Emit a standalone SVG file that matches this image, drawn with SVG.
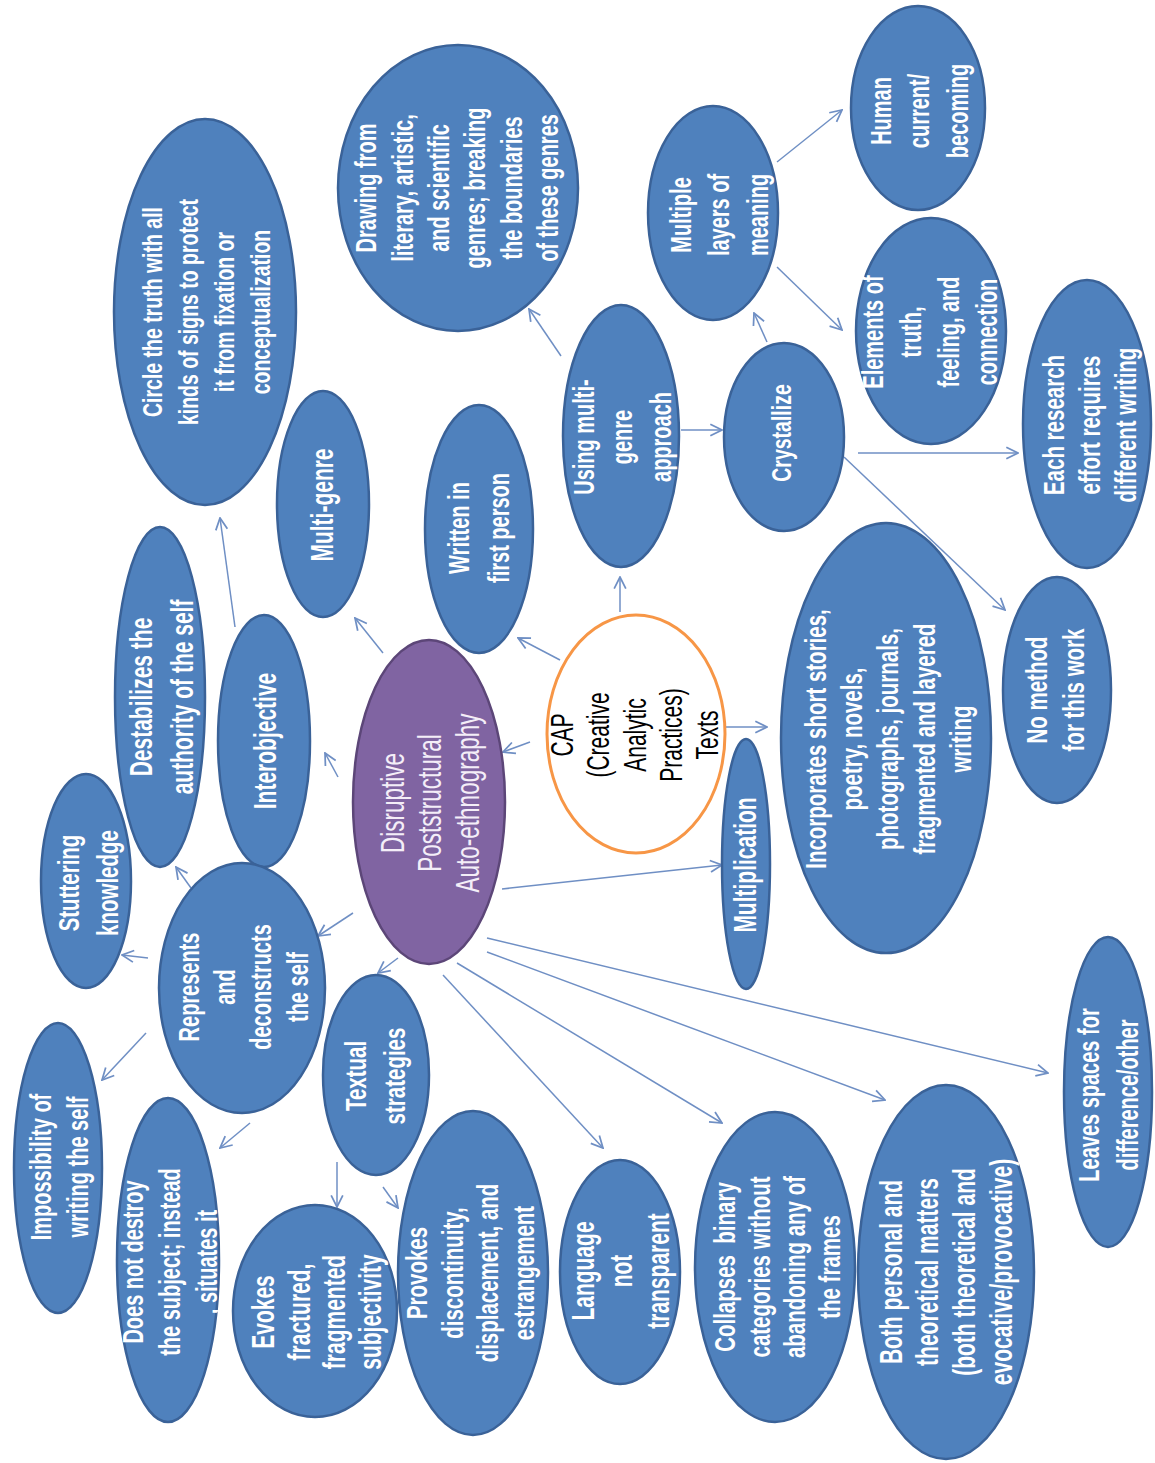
<svg xmlns="http://www.w3.org/2000/svg" width="1155" height="1463" viewBox="0 0 1155 1463">
<style>
.b{fill:#4f81bd;stroke:#3a6298;stroke-width:2.5}
.p{fill:#8064a2;stroke:#5c4678;stroke-width:2.5}
.o{fill:#ffffff;stroke:#f79646;stroke-width:3}
.t{font-family:"Liberation Sans",Arial,sans-serif;font-weight:bold;fill:#ffffff;text-anchor:middle}
.tp{font-family:"Liberation Sans",Arial,sans-serif;fill:#f4eef8;text-anchor:middle}
.tc{font-family:"Liberation Sans",Arial,sans-serif;fill:#000000;text-anchor:middle}
.c line{stroke:#6f8fc4;stroke-width:1.5;fill:none;marker-end:url(#arr)}
</style>
<defs>
<marker id="arr" viewBox="0 0 12 12" refX="11" refY="6" markerWidth="14" markerHeight="14" markerUnits="userSpaceOnUse" orient="auto">
<path d="M1,1 L11,6 L1,11" fill="none" stroke="#6f8fc4" stroke-width="1.5"/>
</marker>
</defs>
<rect width="1155" height="1463" fill="#ffffff"/>

<g id="connectors" class="c">
<line x1="561" y1="356" x2="529" y2="309"/>
<line x1="777" y1="162" x2="842" y2="110"/>
<line x1="777" y1="267" x2="842" y2="330"/>
<line x1="767" y1="342" x2="754" y2="313"/>
<line x1="681" y1="430" x2="722" y2="430"/>
<line x1="858" y1="453" x2="1018" y2="453"/>
<line x1="844" y1="457" x2="1005" y2="610"/>
<line x1="620" y1="612" x2="620" y2="577"/>
<line x1="560" y1="660" x2="518" y2="638"/>
<line x1="530" y1="742" x2="503" y2="752"/>
<line x1="725" y1="727" x2="767" y2="727"/>
<line x1="383" y1="653" x2="355" y2="618"/>
<line x1="338" y1="777" x2="325" y2="753"/>
<line x1="235" y1="627" x2="220" y2="518"/>
<line x1="191" y1="888" x2="176" y2="867"/>
<line x1="353" y1="913" x2="318" y2="936"/>
<line x1="148" y1="958" x2="122" y2="955"/>
<line x1="146" y1="1033" x2="102" y2="1080"/>
<line x1="250" y1="1123" x2="220" y2="1148"/>
<line x1="398" y1="958" x2="378" y2="973"/>
<line x1="337" y1="1162" x2="337" y2="1207"/>
<line x1="383" y1="1187" x2="398" y2="1208"/>
<line x1="502" y1="889" x2="722" y2="865"/>
<line x1="443" y1="975" x2="603" y2="1148"/>
<line x1="457" y1="963" x2="722" y2="1123"/>
<line x1="487" y1="952" x2="885" y2="1100"/>
<line x1="487" y1="938" x2="1048" y2="1073"/>
</g>

<g id="n-circle"><ellipse class="b" cx="205" cy="312" rx="91" ry="193"/>
<text class="t" font-size="19.5" transform="translate(206,312) scale(1.45,1) rotate(-90)"><tspan x="0" y="-30.4">Circle the truth with all</tspan><tspan x="0" y="-5.6">kinds of signs to protect</tspan><tspan x="0" y="19.2">it from fixation or</tspan><tspan x="0" y="44">conceptualization</tspan></text></g>

<g id="n-drawing"><ellipse class="b" cx="458" cy="188" rx="120" ry="143"/>
<text class="t" font-size="20" transform="translate(457,188) scale(1.45,1) rotate(-90)"><tspan x="0" y="-55.75">Drawing from</tspan><tspan x="0" y="-30.65">literary, artistic,</tspan><tspan x="0" y="-5.55">and scientific</tspan><tspan x="0" y="19.55">genres; breaking</tspan><tspan x="0" y="44.65">the boundaries</tspan><tspan x="0" y="69.75">of these genres</tspan></text></g>

<g id="n-multiple"><ellipse class="b" cx="713" cy="213" rx="65" ry="107"/>
<text class="t" font-size="20" transform="translate(719,215) scale(1.45,1) rotate(-90)"><tspan x="0" y="-19.55">Multiple</tspan><tspan x="0" y="7">layers of</tspan><tspan x="0" y="33.55">meaning</tspan></text></g>

<g id="n-human"><ellipse class="b" cx="918" cy="108" rx="67" ry="102"/>
<text class="t" font-size="20" transform="translate(919,111) scale(1.45,1) rotate(-90)"><tspan x="0" y="-19.55">Human</tspan><tspan x="0" y="7">current/</tspan><tspan x="0" y="33.55">becoming</tspan></text></g>

<g id="n-elements"><ellipse class="b" cx="931" cy="331" rx="75" ry="113"/>
<text class="t" font-size="20" transform="translate(930,332) scale(1.45,1) rotate(-90)"><tspan x="0" y="-32.3">Elements of</tspan><tspan x="0" y="-6.1">truth,</tspan><tspan x="0" y="20.1">feeling, and</tspan><tspan x="0" y="46.3">connection</tspan></text></g>

<g id="n-each"><ellipse class="b" cx="1087" cy="424" rx="64" ry="144"/>
<text class="t" font-size="20.5" transform="translate(1090,425) scale(1.45,1) rotate(-90)"><tspan x="0" y="-17.6">Each research</tspan><tspan x="0" y="7.2">effort requires</tspan><tspan x="0" y="32">different writing</tspan></text></g>

<g id="n-using"><ellipse class="b" cx="621" cy="436" rx="58" ry="131"/>
<text class="t" font-size="20" transform="translate(622,437) scale(1.45,1) rotate(-90)"><tspan x="0" y="-19.55">Using multi-</tspan><tspan x="0" y="7">genre</tspan><tspan x="0" y="33.55">approach</tspan></text></g>

<g id="n-crystallize"><ellipse class="b" cx="784" cy="437" rx="60" ry="94"/>
<text class="t" font-size="19.5" transform="translate(781,433) scale(1.45,1) rotate(-90)"><tspan x="0" y="6.8">Crystallize</tspan></text></g>

<g id="n-written"><ellipse class="b" cx="479" cy="529" rx="54" ry="124"/>
<text class="t" font-size="20" transform="translate(479,528) scale(1.45,1) rotate(-90)"><tspan x="0" y="-6.8">Written in</tspan><tspan x="0" y="20.8">first person</tspan></text></g>

<g id="n-multigenre"><ellipse class="b" cx="323" cy="504" rx="46" ry="113"/>
<text class="t" font-size="21" transform="translate(322,505) scale(1.45,1) rotate(-90)"><tspan x="0" y="7.35">Multi-genre</tspan></text></g>

<g id="n-destabilizes"><ellipse class="b" cx="160" cy="697" rx="45" ry="170"/>
<text class="t" font-size="21" transform="translate(162,697) scale(1.45,1) rotate(-90)"><tspan x="0" y="-6.8">Destabilizes the</tspan><tspan x="0" y="21.5">authority of the self</tspan></text></g>

<g id="n-interobjective"><ellipse class="b" cx="264" cy="741" rx="46" ry="126"/>
<text class="t" font-size="21" transform="translate(265,741) scale(1.45,1) rotate(-90)"><tspan x="0" y="7.35">Interobjective</tspan></text></g>

<g id="n-center"><ellipse class="p" cx="429" cy="802" rx="76" ry="162"/>
<text class="tp" font-size="22.5" transform="translate(430,803) scale(1.45,1) rotate(-90)"><tspan x="0" y="-18">Disruptive</tspan><tspan x="0" y="7.9">Poststructural</tspan><tspan x="0" y="33.8">Auto-ethnography</tspan></text></g>

<g id="n-stuttering"><ellipse class="b" cx="86" cy="881" rx="45" ry="107"/>
<text class="t" font-size="20.5" transform="translate(88,883) scale(1.45,1) rotate(-90)"><tspan x="0" y="-6.25">Stuttering</tspan><tspan x="0" y="20.65">knowledge</tspan></text></g>

<g id="n-cap"><ellipse class="o" cx="636" cy="734" rx="89" ry="119"/>
<text class="tc" font-size="21" transform="translate(635,735) scale(1.45,1) rotate(-90)"><tspan x="0" y="-42.6">CAP</tspan><tspan x="0" y="-17.6">(Creative</tspan><tspan x="0" y="7.35">Analytic</tspan><tspan x="0" y="32.3">Practices)</tspan><tspan x="0" y="57.3">Texts</tspan></text></g>

<g id="n-incorporates"><ellipse class="b" cx="886" cy="738" rx="105" ry="215"/>
<text class="t" font-size="20.5" transform="translate(888,739) scale(1.45,1) rotate(-90)"><tspan x="0" y="-43.1">Incorporates short stories,</tspan><tspan x="0" y="-18">poetry, novels,</tspan><tspan x="0" y="7.2">photographs, journals,</tspan><tspan x="0" y="32.4">fragmented and layered</tspan><tspan x="0" y="57.5">writing</tspan></text></g>

<g id="n-nomethod"><ellipse class="b" cx="1057" cy="690" rx="54" ry="113"/>
<text class="t" font-size="20.5" transform="translate(1055,690) scale(1.45,1) rotate(-90)"><tspan x="0" y="-5.55">No method</tspan><tspan x="0" y="19.95">for this work</tspan></text></g>

<g id="n-multiplication"><ellipse class="b" cx="746" cy="864" rx="24" ry="125"/>
<text class="t" font-size="21" transform="translate(745,865) scale(1.45,1) rotate(-90)"><tspan x="0" y="7.35">Multiplication</tspan></text></g>

<g id="n-represents"><ellipse class="b" cx="242" cy="988" rx="83" ry="125"/>
<text class="t" font-size="20" transform="translate(243,987) scale(1.45,1) rotate(-90)"><tspan x="0" y="-30.55">Represents</tspan><tspan x="0" y="-5.5">and</tspan><tspan x="0" y="19.5">deconstructs</tspan><tspan x="0" y="44.55">the self</tspan></text></g>

<g id="n-impossibility"><ellipse class="b" cx="58" cy="1168" rx="44" ry="145"/>
<text class="t" font-size="20" transform="translate(59,1167) scale(1.45,1) rotate(-90)"><tspan x="0" y="-5.75">Impossibility of</tspan><tspan x="0" y="19.75">writing the self</tspan></text></g>

<g id="n-doesnot"><ellipse class="b" cx="168" cy="1260" rx="51" ry="162"/>
<text class="t" font-size="20" transform="translate(170,1262) scale(1.45,1) rotate(-90)"><tspan x="0" y="-18.5">Does not destroy</tspan><tspan x="0" y="7">the subject; instead</tspan><tspan x="0" y="32.5">, situates it</tspan></text></g>

<g id="n-textual"><ellipse class="b" cx="376" cy="1075" rx="53" ry="100"/>
<text class="t" font-size="20.5" transform="translate(375,1076) scale(1.45,1) rotate(-90)"><tspan x="0" y="-6.25">Textual</tspan><tspan x="0" y="20.65">strategies</tspan></text></g>

<g id="n-evokes"><ellipse class="b" cx="315" cy="1311" rx="82" ry="106"/>
<text class="t" font-size="21" transform="translate(317,1312) scale(1.45,1) rotate(-90)"><tspan x="0" y="-29.55">Evokes</tspan><tspan x="0" y="-4.95">fractured,</tspan><tspan x="0" y="19.65">fragmented</tspan><tspan x="0" y="44.25">subjectivity</tspan></text></g>

<g id="n-provokes"><ellipse class="b" cx="473" cy="1273" rx="75" ry="162"/>
<text class="t" font-size="20.5" transform="translate(470,1273) scale(1.45,1) rotate(-90)"><tspan x="0" y="-29.7">Provokes</tspan><tspan x="0" y="-5.1">discontinuity,</tspan><tspan x="0" y="19.5">displacement, and</tspan><tspan x="0" y="44.1">estrangement</tspan></text></g>

<g id="n-language"><ellipse class="b" cx="620" cy="1272" rx="60" ry="112"/>
<text class="t" font-size="21" transform="translate(621,1271) scale(1.45,1) rotate(-90)"><tspan x="0" y="-18.5">Language</tspan><tspan x="0" y="7.35">not</tspan><tspan x="0" y="33.2">transparent</tspan></text></g>

<g id="n-collapses"><ellipse class="b" cx="775" cy="1267" rx="80" ry="155"/>
<text class="t" font-size="20.5" style="white-space:pre" transform="translate(777,1267) scale(1.45,1) rotate(-90)"><tspan x="0" y="-29.3">Collapses  binary</tspan><tspan x="0" y="-5">categories without</tspan><tspan x="0" y="19.4">abandoning any of</tspan><tspan x="0" y="43.7">the frames</tspan></text></g>

<g id="n-both"><ellipse class="b" cx="946" cy="1272" rx="88" ry="187"/>
<text class="t" font-size="21" transform="translate(946,1272) scale(1.45,1) rotate(-90)"><tspan x="0" y="-30.6">Both personal and</tspan><tspan x="0" y="-5.3">theoretical matters</tspan><tspan x="0" y="20">(both theoretical and</tspan><tspan x="0" y="45.3">evocative/provocative)</tspan></text></g>

<g id="n-leaves"><ellipse class="b" cx="1108" cy="1092" rx="44" ry="155"/>
<text class="t" font-size="20" transform="translate(1108,1095) scale(1.45,1) rotate(-90)"><tspan x="0" y="-6.45">Leaves spaces for</tspan><tspan x="0" y="20.45">difference/other</tspan></text></g>
</svg>
